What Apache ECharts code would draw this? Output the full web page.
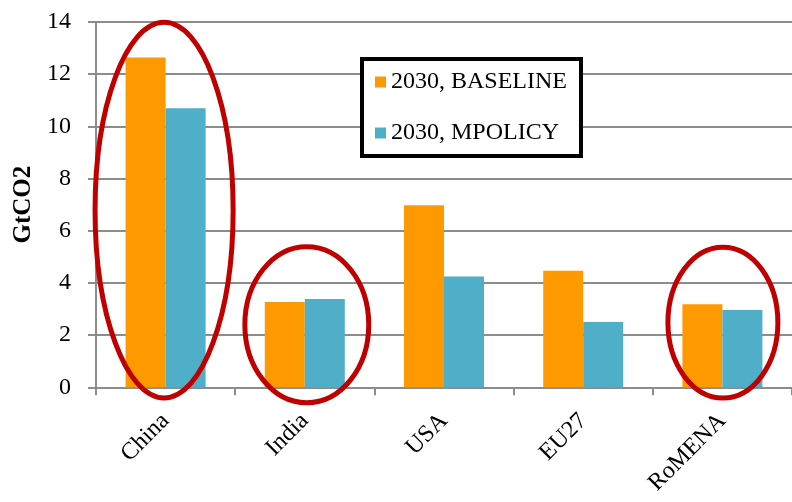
<!DOCTYPE html>
<html>
<head>
<meta charset="utf-8">
<title>GtCO2 emissions 2030</title>
<script src="https://cdn.jsdelivr.net/npm/echarts@6/dist/echarts.min.js"></script>
<style>
  html, body { margin: 0; padding: 0; background: #fff; }
  #chart { width: 792px; height: 502px; }
</style>
</head>
<body>
<div id="chart"></div>
<script>
// Regions and 2030 emissions (GtCO2) under the two scenarios
var regions = ['China', 'India', 'USA', 'EU27', 'RoMENA'];
var baseline2030 = [12.64, 3.27, 6.98, 4.47, 3.18];
var mpolicy2030 = [10.69, 3.38, 4.25, 2.50, 2.96];
var seriesNames = ['2030, BASELINE', '2030, MPOLICY'];
var yTicks = [0, 2, 4, 6, 8, 10, 12, 14];

var FONT = '"Liberation Serif", "Times New Roman", serif';
var GRID_COLOR = '#8c8c8c';

var chart = echarts.init(document.getElementById('chart'), null, { renderer: 'canvas' });

chart.setOption({
  animation: false,
  backgroundColor: '#ffffff',
  textStyle: { fontFamily: FONT },
  grid: {
    left: 96, right: 0, top: 22, bottom: 114.7,
    containLabel: false,
    outerBoundsMode: 'none'
  },
  legend: {
    orient: 'vertical',
    left: 362,
    top: 59,
    data: seriesNames,
    icon: 'rect',
    itemWidth: 11,
    itemHeight: 11,
    itemGap: 27,
    padding: [11, 14, 11, 13],
    borderColor: '#000000',
    borderWidth: 4,
    backgroundColor: '#ffffff',
    textStyle: { fontFamily: FONT, fontSize: 24, color: '#000' }
  },
  xAxis: {
    type: 'category',
    data: regions,
    axisLine: { lineStyle: { color: GRID_COLOR, width: 2 } },
    axisTick: { show: true, length: 8, lineStyle: { color: GRID_COLOR, width: 2 } },
    axisLabel: { rotate: 45, margin: 30, fontFamily: FONT, fontSize: 24, color: '#000' }
  },
  yAxis: {
    type: 'value',
    min: yTicks[0],
    max: yTicks[yTicks.length - 1],
    interval: 2,
    name: 'GtCO2',
    nameLocation: 'middle',
    nameRotate: 90,
    nameGap: 60,
    nameTextStyle: { fontFamily: FONT, fontSize: 25, fontWeight: 'bold', color: '#000' },
    axisLine: { show: true, lineStyle: { color: GRID_COLOR, width: 2 } },
    axisTick: { show: true, length: 8, lineStyle: { color: GRID_COLOR, width: 2 } },
    axisLabel: { margin: 25, fontFamily: FONT, fontSize: 24, color: '#000' },
    splitLine: { show: true, lineStyle: { color: GRID_COLOR, width: 2 } }
  },
  series: [
    {
      name: seriesNames[0],
      type: 'bar',
      data: baseline2030,
      barWidth: 40,
      barGap: '0%',
      itemStyle: { color: '#FF9900' }
    },
    {
      name: seriesNames[1],
      type: 'bar',
      data: mpolicy2030,
      barWidth: 40,
      barGap: '0%',
      itemStyle: { color: '#4FAEC8' }
    }
  ]
});

// Red highlight rings around selected regions.
// centre/halfHeight are in GtCO2, halfWidth as a share of one category band,
// shift is a small horizontal nudge in pixels.
var highlights = [
  { region: 'China',  centre: 6.79, halfHeight: 7.2,  halfWidth: 0.496, shift: -1.5 },
  { region: 'India',  centre: 2.40, halfHeight: 2.99, halfWidth: 0.445, shift: 2 },
  { region: 'RoMENA', centre: 2.48, halfHeight: 2.89, halfWidth: 0.395, shift: 0.5 }
];

var bandWidth = chart.convertToPixel({ xAxisIndex: 0 }, regions[1]) -
                chart.convertToPixel({ xAxisIndex: 0 }, regions[0]);

chart.setOption({
  graphic: highlights.map(function (h) {
    var cx = chart.convertToPixel({ xAxisIndex: 0 }, h.region) + h.shift;
    var cy = chart.convertToPixel({ yAxisIndex: 0 }, h.centre);
    var top = chart.convertToPixel({ yAxisIndex: 0 }, h.centre + h.halfHeight);
    return {
      type: 'ellipse',
      z: 100,
      shape: { cx: cx, cy: cy, rx: bandWidth * h.halfWidth, ry: cy - top },
      style: { fill: 'none', stroke: '#C00000', lineWidth: 5 }
    };
  })
});
</script>
</body>
</html>
